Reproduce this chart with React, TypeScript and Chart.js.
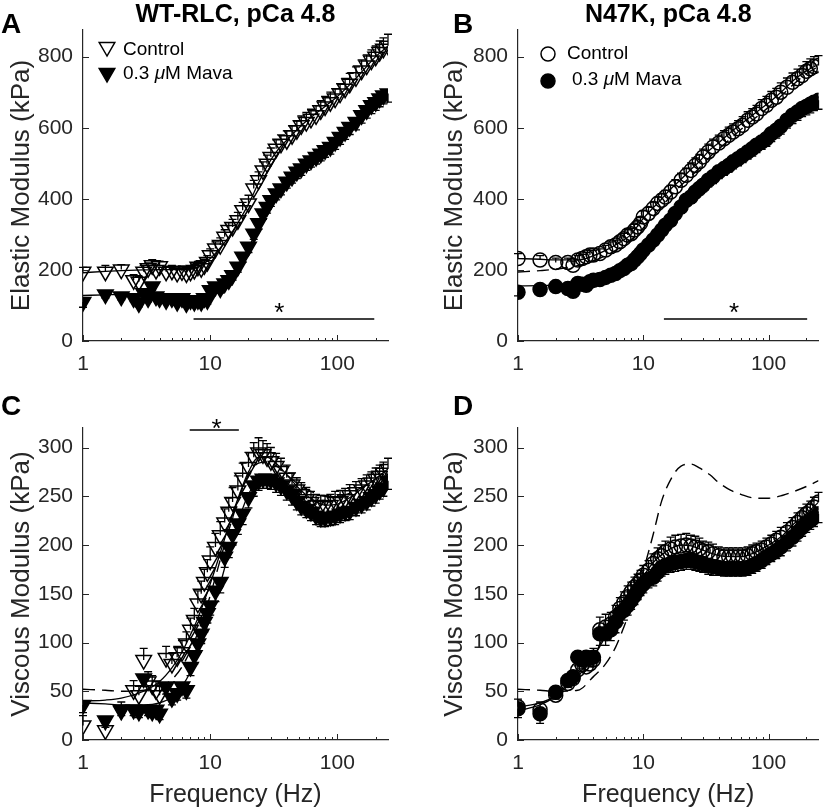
import React, { useEffect, useRef } from "react";
import { Chart, registerables } from "chart.js";

Chart.register(...registerables);

// ---------------- data ----------------
const FREQ = [1, 1.5, 2, 2.5, 2.75, 3, 3.25, 3.5, 3.75, 4, 4.5, 5, 5.5, 6, 6.5, 7, 7.5, 8, 8.5, 9, 9.5, 10, 11, 12, 13, 14, 15, 16.5, 18, 20, 22, 24, 26, 28, 30, 33, 36, 40, 44, 48, 52, 57, 62, 68, 74, 80, 88, 96, 105, 115, 125, 140, 155, 170, 185, 200, 215, 230, 250];
const FIT_FREQ = [1, 1.5, 2, 3, 4, 5, 6, 7, 8, 10, 12, 14, 17, 20, 24, 28, 34, 40, 50, 60, 80, 100, 130, 160, 200, 250];

// Panel A: WT-RLC elastic modulus (kPa)
const A_CONTROL = [195, 195, 201, 171, 167, 195, 205, 213, 200, 210, 195, 198, 192, 196, 190, 195, 200, 209, 205, 213, 222, 241, 260, 270, 293, 312, 321, 340, 368, 387, 429, 452, 480, 499, 518, 541, 555, 565, 579, 593, 607, 616, 625, 635, 649, 660, 672, 682, 696, 710, 724, 742, 761, 775, 789, 800, 813, 822, 831];
const A_CONTROL_SEM = [12, 18, 14, 16, 14, 18, 15, 16, 14, 15, 14, 15, 14, 15, 14, 15, 16, 15, 16, 17, 18, 18, 19, 20, 20, 21, 21, 22, 22, 23, 23, 24, 24, 24, 25, 25, 25, 26, 26, 26, 26, 27, 27, 27, 27, 28, 28, 28, 28, 29, 29, 29, 30, 30, 30, 30, 31, 31, 32];
const A_MAVA = [110, 131, 125, 120, 106, 134, 120, 153, 125, 120, 115, 120, 110, 120, 106, 115, 110, 115, 110, 120, 115, 143, 153, 148, 162, 171, 185, 209, 237, 265, 302, 331, 359, 377, 396, 415, 429, 448, 462, 476, 485, 499, 508, 518, 527, 537, 546, 560, 574, 588, 602, 616, 635, 649, 663, 672, 682, 691, 696];
const A_MAVA_SEM = [15, 10, 9, 9, 10, 9, 10, 10, 9, 9, 9, 9, 10, 9, 10, 9, 10, 10, 10, 11, 11, 12, 12, 13, 13, 14, 14, 15, 15, 16, 16, 16, 17, 17, 17, 18, 18, 18, 18, 19, 19, 19, 19, 20, 20, 20, 20, 21, 21, 21, 21, 22, 22, 22, 23, 23, 23, 24, 24];
const A_CONTROL_FIT = [192, 196, 198, 200, 201, 201, 201, 203, 208, 232, 262, 292, 340, 385, 445, 492, 538, 565, 600, 625, 660, 688, 727, 762, 800, 830];
const A_MAVA_FIT = [128, 130, 131, 130, 128, 125, 123, 124, 126, 138, 150, 165, 205, 260, 325, 375, 422, 450, 486, 510, 542, 568, 605, 638, 670, 697];

// Panel B: N47K elastic modulus (kPa)
const B_CONTROL = [232, 228, 221, 221, 213, 228, 232, 237, 242, 242, 246, 256, 265, 270, 279, 288, 298, 302, 312, 321, 331, 349, 359, 373, 387, 396, 405, 419, 434, 452, 466, 480, 494, 504, 518, 532, 546, 557, 569, 579, 588, 597, 607, 621, 630, 639, 654, 663, 677, 686, 700, 714, 728, 738, 747, 759, 766, 772, 775];
const B_CONTROL_SEM = [14, 12, 12, 12, 12, 12, 12, 12, 13, 13, 13, 13, 14, 14, 14, 15, 15, 15, 16, 16, 16, 17, 17, 18, 18, 18, 19, 19, 20, 20, 20, 21, 21, 21, 22, 22, 22, 22, 23, 23, 23, 23, 24, 24, 24, 24, 25, 25, 25, 25, 26, 26, 26, 27, 27, 27, 28, 28, 28];
const B_MAVA = [137, 145, 153, 148, 140, 162, 160, 157, 167, 171, 173, 179, 185, 190, 198, 204, 213, 218, 228, 237, 246, 256, 270, 284, 298, 312, 326, 340, 359, 377, 396, 405, 419, 429, 438, 452, 462, 476, 485, 494, 504, 513, 522, 532, 541, 551, 560, 569, 583, 593, 604, 621, 635, 644, 654, 660, 666, 672, 677];
const B_MAVA_SEM = [10, 10, 9, 9, 9, 10, 10, 10, 10, 10, 10, 11, 11, 11, 12, 12, 12, 13, 13, 13, 13, 14, 14, 15, 15, 15, 16, 16, 16, 17, 17, 17, 18, 18, 18, 18, 19, 19, 19, 19, 20, 20, 20, 20, 21, 21, 21, 21, 22, 22, 22, 22, 23, 23, 23, 24, 24, 24, 25];
const B_CONTROL_FIT = [232, 230, 228, 228, 240, 255, 270, 285, 300, 345, 375, 400, 432, 455, 483, 505, 538, 558, 588, 610, 644, 670, 705, 735, 760, 778];
const B_MAVA_FIT = [155, 156, 157, 160, 168, 178, 190, 203, 215, 252, 285, 312, 348, 376, 405, 430, 460, 478, 503, 522, 552, 578, 610, 635, 658, 678];
const B_MODEL_FIT = [194, 198, 202, 212, 225, 240, 255, 270, 285, 318, 350, 378, 412, 438, 463, 487, 518, 540, 570, 595, 630, 658, 694, 724, 752, 772];

// Panel C: WT-RLC viscous modulus (kPa)
const C_CONTROL = [15, 10, 30, 51, 46, 82, 60, 56, 51, 46, 84, 78, 85, 90, 99, 113, 123, 140, 150, 162, 172, 184, 198, 210, 223, 234, 244, 256, 269, 280, 290, 295, 293, 290, 286, 281, 276, 269, 262, 257, 252, 247, 244, 241, 240, 240, 241, 244, 245, 247, 251, 254, 257, 261, 264, 268, 271, 274, 278];
const C_CONTROL_SEM = [10, 8, 9, 10, 9, 12, 10, 10, 9, 9, 12, 11, 11, 12, 12, 12, 12, 13, 13, 13, 13, 14, 14, 14, 14, 14, 15, 15, 15, 15, 15, 15, 14, 14, 14, 13, 13, 13, 12, 12, 12, 12, 11, 11, 11, 11, 11, 11, 11, 11, 11, 11, 11, 11, 11, 11, 11, 11, 11];
const C_MAVA = [36, 20, 31, 31, 29, 63, 31, 29, 31, 27, 55, 43, 48, 55, 51, 75, 87, 99, 109, 121, 130, 138, 153, 162, 188, 198, 211, 222, 232, 249, 261, 266, 268, 268, 267, 264, 261, 256, 251, 245, 240, 237, 234, 230, 228, 228, 229, 230, 232, 234, 235, 239, 242, 245, 249, 252, 256, 259, 266];
const C_MAVA_SEM = [8, 7, 6, 6, 6, 8, 6, 6, 6, 6, 8, 7, 7, 8, 8, 9, 9, 9, 10, 10, 10, 10, 11, 11, 11, 11, 11, 11, 11, 11, 11, 10, 10, 10, 10, 10, 10, 10, 10, 9, 9, 9, 9, 9, 9, 9, 9, 9, 9, 9, 9, 9, 9, 9, 9, 9, 9, 9, 9];
const C_CONTROL_FIT = [40, 41, 43, 50, 60, 74, 90, 108, 125, 160, 192, 220, 252, 275, 290, 290, 282, 272, 258, 249, 241, 242, 250, 259, 268, 278];
const C_MAVA_FIT = [38, 37, 36, 36, 38, 44, 55, 70, 88, 126, 160, 192, 228, 252, 266, 268, 264, 256, 244, 236, 229, 229, 236, 244, 253, 264];
const C_MODEL_FIT = [52, 51, 50, 51, 55, 62, 75, 92, 110, 148, 185, 215, 250, 272, 284, 285, 280, 272, 262, 256, 250, 250, 254, 260, 268, 278];

// Panel D: N47K viscous modulus (kPa)
const D_CONTROL = [34, 31, 46, 58, 63, 72, 77, 75, 78, 82, 113, 116, 119, 126, 135, 141, 147, 152, 157, 160, 164, 169, 174, 181, 186, 189, 193, 196, 198, 199, 200, 199, 198, 196, 194, 193, 191, 189, 188, 188, 188, 188, 188, 189, 191, 193, 195, 198, 201, 205, 208, 213, 218, 223, 228, 232, 235, 239, 244];
const D_CONTROL_SEM = [8, 8, 7, 8, 8, 10, 10, 10, 10, 12, 13, 13, 12, 12, 11, 11, 11, 10, 10, 10, 10, 10, 10, 10, 11, 11, 11, 12, 12, 12, 12, 11, 11, 11, 10, 10, 10, 9, 9, 9, 9, 9, 9, 9, 9, 9, 9, 9, 9, 9, 10, 10, 10, 10, 10, 10, 10, 10, 10];
const D_MAVA = [32, 27, 49, 61, 65, 85, 82, 85, 84, 85, 109, 109, 113, 121, 130, 133, 138, 143, 148, 153, 157, 160, 165, 167, 172, 177, 179, 181, 182, 183, 184, 184, 183, 182, 181, 179, 178, 177, 176, 176, 176, 176, 176, 177, 179, 181, 184, 188, 191, 194, 198, 203, 208, 213, 218, 222, 225, 228, 232];
const D_MAVA_SEM = [9, 10, 7, 7, 7, 9, 9, 9, 9, 9, 12, 12, 11, 11, 10, 10, 10, 9, 9, 9, 9, 9, 9, 9, 9, 9, 9, 9, 9, 9, 9, 9, 9, 9, 9, 9, 9, 8, 8, 8, 8, 8, 8, 8, 8, 8, 8, 8, 8, 8, 9, 9, 9, 9, 9, 9, 9, 9, 9];
const D_CONTROL_FIT = [34, 38, 46, 68, 85, 110, 123, 138, 150, 168, 182, 190, 197, 200, 199, 196, 192, 189, 188, 188, 193, 200, 210, 222, 232, 244];
const D_MAVA_FIT = [30, 36, 45, 65, 85, 106, 120, 132, 142, 158, 167, 175, 181, 183, 184, 182, 179, 177, 176, 176, 181, 189, 200, 212, 222, 232];
const D_MODEL_FIT = [52, 51, 50, 51, 65, 78, 95, 116, 136, 174, 211, 245, 270, 281, 283, 279, 272, 264, 256, 252, 248, 248, 251, 255, 260, 266];

// significance bars: [x start, x end], y level, asterisk [x, y]
const SIG_A_X = [7.4, 195];
const SIG_A_Y = 62;
const SIG_A_STAR = [35, 93];
const SIG_B_X = [14.6, 203];
const SIG_B_Y = 62;
const SIG_B_STAR = [53, 93];
const SIG_C_X = [6.9, 16.8];
const SIG_C_Y = 318;
const SIG_C_STAR = [11.2, 324];

// axes
const X_MIN = 1;
const X_MAX = 250;
const X_MAJOR_TICKS = [1, 10, 100];
const X_MINOR_TICKS = [2, 3, 4, 5, 6, 7, 8, 9, 20, 30, 40, 50, 60, 70, 80, 90, 200];
const Y_MAX_ELASTIC = 875;
const Y_MAX_VISCOUS = 320;
const Y_TICKS_ELASTIC = [0, 200, 400, 600, 800];
const Y_TICKS_VISCOUS = [0, 50, 100, 150, 200, 250, 300];

const TITLES = ["WT-RLC, pCa 4.8", "N47K, pCa 4.8"];
const Y_TITLES = ["Elastic Modulus (kPa)", "Viscous Modulus (kPa)"];
const X_TITLE = "Frequency (Hz)";
const LEGEND_CONTROL = "Control";
const LEGEND_MAVA_PARTS = ["0.3 ", "\u03bc", "M Mava"];

// ---------------- styling ----------------
const INK = "#262626";
const BLACK = "#000000";
const FONT = "'Liberation Sans', Arial, Helvetica, sans-serif";
const TRI_R = 9;
const CIRC_R = 7;

type Panel = {
  letter: string;
  title: string | null;
  yTitle: string;
  xTitle: string | null;
  ctrl: number[];
  ctrlErr: number[];
  mava: number[];
  mavaErr: number[];
  ctrlFit: number[];
  mavaFit: number[];
  modelFit: number[] | null;
  marker: "triangle" | "circle";
  yMax: number;
  yTicks: number[];
  sigX: number[] | null;
  sigY: number;
  star: number[] | null;
  box: { left: number; top: number; width: number; height: number };
  pad: { left: number; right: number; top: number; bottom: number };
  yWidth: number;
  xHeight: number;
  letterPos: [number, number];
  legend: null | { mx: number; my1: number; my2: number; tx1: number; tx2: number; ty1: number; ty2: number };
};

const PANELS: Panel[] = [
  {
    letter: "A", title: TITLES[0], yTitle: Y_TITLES[0], xTitle: null,
    ctrl: A_CONTROL, ctrlErr: A_CONTROL_SEM, mava: A_MAVA, mavaErr: A_MAVA_SEM,
    ctrlFit: A_CONTROL_FIT, mavaFit: A_MAVA_FIT, modelFit: null,
    marker: "triangle", yMax: Y_MAX_ELASTIC, yTicks: Y_TICKS_ELASTIC,
    sigX: SIG_A_X, sigY: SIG_A_Y, star: SIG_A_STAR,
    box: { left: 0, top: 0, width: 413, height: 390 },
    pad: { left: 0, right: 25, top: 0, bottom: 0 }, yWidth: 83, xHeight: 49,
    letterPos: [1, 33],
    legend: { mx: 24, my1: 17, my2: 43, tx1: 40, tx2: 40, ty1: 20, ty2: 44 },
  },
  {
    letter: "B", title: TITLES[1], yTitle: Y_TITLES[0], xTitle: null,
    ctrl: B_CONTROL, ctrlErr: B_CONTROL_SEM, mava: B_MAVA, mavaErr: B_MAVA_SEM,
    ctrlFit: B_CONTROL_FIT, mavaFit: B_MAVA_FIT, modelFit: B_MODEL_FIT,
    marker: "circle", yMax: Y_MAX_ELASTIC, yTicks: Y_TICKS_ELASTIC,
    sigX: SIG_B_X, sigY: SIG_B_Y, star: SIG_B_STAR,
    box: { left: 413, top: 0, width: 414, height: 390 },
    pad: { left: 20, right: 5, top: 0, bottom: 0 }, yWidth: 85, xHeight: 49,
    letterPos: [40, 33],
    legend: { mx: 30, my1: 24, my2: 51, tx1: 49, tx2: 54, ty1: 24, ty2: 50 },
  },
  {
    letter: "C", title: null, yTitle: Y_TITLES[1], xTitle: X_TITLE,
    ctrl: C_CONTROL, ctrlErr: C_CONTROL_SEM, mava: C_MAVA, mavaErr: C_MAVA_SEM,
    ctrlFit: C_CONTROL_FIT, mavaFit: C_MAVA_FIT, modelFit: C_MODEL_FIT,
    marker: "triangle", yMax: Y_MAX_VISCOUS, yTicks: Y_TICKS_VISCOUS,
    sigX: SIG_C_X, sigY: SIG_C_Y, star: SIG_C_STAR,
    box: { left: 0, top: 390, width: 413, height: 420 },
    pad: { left: 0, right: 25, top: 38, bottom: 0 }, yWidth: 83, xHeight: 70,
    letterPos: [1, 25],
    legend: null,
  },
  {
    letter: "D", title: null, yTitle: Y_TITLES[1], xTitle: X_TITLE,
    ctrl: D_CONTROL, ctrlErr: D_CONTROL_SEM, mava: D_MAVA, mavaErr: D_MAVA_SEM,
    ctrlFit: D_CONTROL_FIT, mavaFit: D_MAVA_FIT, modelFit: D_MODEL_FIT,
    marker: "circle", yMax: Y_MAX_VISCOUS, yTicks: Y_TICKS_VISCOUS,
    sigX: null, sigY: 0, star: null,
    box: { left: 413, top: 390, width: 414, height: 420 },
    pad: { left: 20, right: 5, top: 38, bottom: 0 }, yWidth: 85, xHeight: 70,
    letterPos: [40, 25],
    legend: null,
  },
];

function drawMarker(ctx: CanvasRenderingContext2D, kind: string, x: number, y: number, filled: boolean) {
  ctx.beginPath();
  if (kind === "triangle") {
    const r = TRI_R;
    ctx.moveTo(x, y + r);
    ctx.lineTo(x - 0.866 * r, y - 0.5 * r);
    ctx.lineTo(x + 0.866 * r, y - 0.5 * r);
    ctx.closePath();
  } else {
    ctx.arc(x, y, CIRC_R, 0, Math.PI * 2);
  }
  if (filled) {
    ctx.fillStyle = BLACK;
    ctx.fill();
  }
  ctx.strokeStyle = BLACK;
  ctx.lineWidth = 1.5;
  ctx.stroke();
}

function decorPlugin(p: Panel) {
  return {
    id: "decor" + p.letter,
    beforeDatasetsDraw(chart: any) {
      const { ctx } = chart;
      const xs = chart.scales.x;
      const ys = chart.scales.y;
      ctx.save();
      ctx.strokeStyle = BLACK;
      ctx.lineWidth = 1.3;
      const bars = (vals: number[], errs: number[], dir: number) => {
        FREQ.forEach((f, i) => {
          const px = xs.getPixelForValue(f);
          const y0 = ys.getPixelForValue(vals[i]);
          const y1 = ys.getPixelForValue(vals[i] + dir * errs[i]);
          ctx.beginPath();
          ctx.moveTo(px, y0);
          ctx.lineTo(px, y1);
          ctx.moveTo(px - 4, y1);
          ctx.lineTo(px + 4, y1);
          ctx.stroke();
        });
      };
      bars(p.mava, p.mavaErr, -1);
      bars(p.ctrl, p.ctrlErr, 1);
      ctx.restore();
    },
    afterDraw(chart: any) {
      const { ctx, chartArea: ca } = chart;
      const xs = chart.scales.x;
      const ys = chart.scales.y;
      ctx.save();
      // inward tick marks
      ctx.strokeStyle = INK;
      ctx.lineWidth = 1;
      ctx.beginPath();
      X_MAJOR_TICKS.forEach((v) => {
        const px = Math.round(xs.getPixelForValue(v)) + 0.5;
        ctx.moveTo(px, ca.bottom);
        ctx.lineTo(px, ca.bottom - 6);
      });
      X_MINOR_TICKS.forEach((v) => {
        const px = Math.round(xs.getPixelForValue(v)) + 0.5;
        ctx.moveTo(px, ca.bottom);
        ctx.lineTo(px, ca.bottom - 3);
      });
      p.yTicks.forEach((v) => {
        const py = Math.round(ys.getPixelForValue(v)) + 0.5;
        ctx.moveTo(ca.left, py);
        ctx.lineTo(ca.left + 6, py);
      });
      ctx.stroke();
      // significance asterisk
      if (p.star) {
        ctx.fillStyle = BLACK;
        ctx.font = `26px ${FONT}`;
        ctx.textAlign = "center";
        ctx.textBaseline = "middle";
        ctx.fillText("*", xs.getPixelForValue(p.star[0]), ys.getPixelForValue(p.star[1]) + 6);
      }
      // legend
      if (p.legend) {
        const L = p.legend;
        drawMarker(ctx, p.marker, ca.left + L.mx, ca.top + L.my1, false);
        drawMarker(ctx, p.marker, ca.left + L.mx, ca.top + L.my2, true);
        ctx.fillStyle = BLACK;
        ctx.textAlign = "left";
        ctx.textBaseline = "middle";
        ctx.font = `19px ${FONT}`;
        ctx.fillText(LEGEND_CONTROL, ca.left + L.tx1, ca.top + L.ty1);
        let tx = ca.left + L.tx2;
        LEGEND_MAVA_PARTS.forEach((part, i) => {
          ctx.font = `${i === 1 ? "italic " : ""}19px ${FONT}`;
          ctx.fillText(part, tx, ca.top + L.ty2);
          tx += ctx.measureText(part).width;
        });
      }
      // panel letter
      ctx.fillStyle = BLACK;
      ctx.textAlign = "left";
      ctx.textBaseline = "alphabetic";
      ctx.font = `bold 28px ${FONT}`;
      ctx.fillText(p.letter, p.letterPos[0], p.letterPos[1]);
      ctx.restore();
    },
  };
}

function buildChart(canvas: HTMLCanvasElement, p: Panel) {
  const pts = (xs: number[], ys: number[]) => xs.map((x, i) => ({ x, y: ys[i] }));
  const tri = p.marker === "triangle";
  const pointStyle = tri ? "triangle" : "circle";
  const pointRadius = tri ? TRI_R : CIRC_R;
  const pointRotation = tri ? 180 : 0;
  const datasets: any[] = [
    {
      label: LEGEND_CONTROL, data: pts(FREQ, p.ctrl), showLine: false,
      pointStyle, pointRotation, pointRadius,
      pointBackgroundColor: "rgba(0,0,0,0)", pointBorderColor: BLACK, pointBorderWidth: 1.5,
    },
    {
      label: LEGEND_MAVA_PARTS.join(""), data: pts(FREQ, p.mava), showLine: false,
      pointStyle, pointRotation, pointRadius,
      pointBackgroundColor: BLACK, pointBorderColor: BLACK, pointBorderWidth: 1.5,
    },
    {
      label: "Control fit", data: pts(FIT_FREQ, p.ctrlFit), showLine: true, pointRadius: 0,
      borderColor: BLACK, borderWidth: 1.3, cubicInterpolationMode: "monotone", fill: false,
    },
    {
      label: "Mava fit", data: pts(FIT_FREQ, p.mavaFit), showLine: true, pointRadius: 0,
      borderColor: BLACK, borderWidth: 1.3, cubicInterpolationMode: "monotone", fill: false,
    },
  ];
  if (p.modelFit) {
    datasets.push({
      label: "Model", data: pts(FIT_FREQ, p.modelFit), showLine: true, pointRadius: 0,
      borderColor: BLACK, borderWidth: 1.4, borderDash: [12, 7], cubicInterpolationMode: "monotone", fill: false,
    });
  }
  if (p.sigX) {
    datasets.push({
      label: "Significance", data: [{ x: p.sigX[0], y: p.sigY }, { x: p.sigX[1], y: p.sigY }],
      showLine: true, pointRadius: 0, borderColor: BLACK, borderWidth: 1.4, clip: false, fill: false,
    });
  }

  return new Chart(canvas, {
    type: "scatter",
    data: { datasets },
    options: {
      responsive: false,
      animation: false,
      events: [],
      layout: { padding: p.pad },
      plugins: {
        legend: { display: false },
        tooltip: { enabled: false },
        title: {
          display: !!p.title,
          text: p.title || "",
          color: BLACK,
          fullSize: false,
          font: { family: FONT, size: 25, weight: "bold", lineHeight: 1.2 },
          padding: 0,
        },
      },
      scales: {
        x: {
          type: "logarithmic",
          min: X_MIN,
          max: X_MAX,
          grid: { display: false, drawTicks: false },
          border: { display: true, color: INK, width: 1.2 },
          ticks: {
            color: INK, font: { family: FONT, size: 21 }, padding: 11,
            autoSkip: false, maxRotation: 0, minRotation: 0,
            callback: (v: any) => String(v),
          },
          afterBuildTicks: (s: any) => { s.ticks = X_MAJOR_TICKS.map((v) => ({ value: v })); },
          afterFit: (s: any) => { s.height = p.xHeight; },
          title: {
            display: !!p.xTitle, text: p.xTitle || "", color: INK,
            font: { family: FONT, size: 25, lineHeight: 1.2 }, padding: 0,
          },
        },
        y: {
          type: "linear",
          min: 0,
          max: p.yMax,
          grid: { display: false, drawTicks: false },
          border: { display: true, color: INK, width: 1.2 },
          ticks: { color: INK, font: { family: FONT, size: 21 }, padding: 10, autoSkip: false },
          afterBuildTicks: (s: any) => { s.ticks = p.yTicks.map((v) => ({ value: v })); },
          afterFit: (s: any) => { s.width = p.yWidth; },
          title: {
            display: true, text: p.yTitle, color: INK,
            font: { family: FONT, size: 26, lineHeight: 1.2 }, padding: { top: 6, bottom: 0 },
          },
        },
      },
    } as any,
    plugins: [decorPlugin(p)],
  });
}

export default function App() {
  const r0 = useRef<HTMLCanvasElement>(null);
  const r1 = useRef<HTMLCanvasElement>(null);
  const r2 = useRef<HTMLCanvasElement>(null);
  const r3 = useRef<HTMLCanvasElement>(null);
  const refs = [r0, r1, r2, r3];

  useEffect(() => {
    const charts = PANELS.map((p, i) => buildChart(refs[i].current as HTMLCanvasElement, p));
    return () => charts.forEach((c) => c.destroy());
  }, []);

  return (
    <div style={{ position: "absolute", left: 0, top: 0, width: 827, height: 810, background: "#ffffff", overflow: "hidden" }}>
      {PANELS.map((p, i) => (
        <canvas
          key={p.letter}
          ref={refs[i]}
          width={p.box.width}
          height={p.box.height}
          style={{ position: "absolute", left: p.box.left, top: p.box.top, width: p.box.width, height: p.box.height }}
        />
      ))}
    </div>
  );
}
